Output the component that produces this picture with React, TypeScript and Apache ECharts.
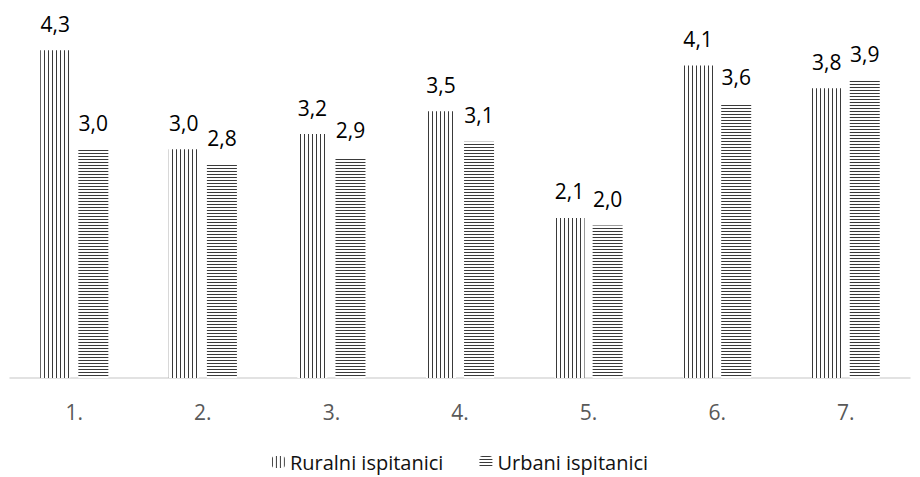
import React, { useEffect, useRef } from "react";
import * as echarts from "echarts";

const categories = ["1.", "2.", "3.", "4.", "5.", "6.", "7."];
const ruralValues = [4.3, 3.0, 3.2, 3.5, 2.1, 4.1, 3.8];
const urbanValues = [3.0, 2.8, 2.9, 3.1, 2.0, 3.6, 3.9];
const seriesNames = ["Ruralni ispitanici", "Urbani ispitanici"];

const FONT = "'Open Sans', 'Noto Sans', sans-serif";

export default function App() {
  const ref = useRef<HTMLDivElement>(null);
  useEffect(() => {
    if (!ref.current) return;
    const chart = echarts.init(ref.current, undefined, { renderer: "svg" });
    const label = {
      show: true,
      position: "top",
      distance: 16,
      fontSize: 21,
      fontFamily: FONT,
      color: "#000",
      formatter: (p: any) => Number(p.value).toFixed(1).replace(".", ","),
    };
    const vDecal = {
      symbol: "rect",
      symbolSize: 1,
      color: "#3a3a3a",
      backgroundColor: "#fff",
      dashArrayX: [1, 2.5],
      dashArrayY: [10, 0],
      rotation: 0,
    };
    const hDecal = {
      symbol: "rect",
      symbolSize: 1,
      color: "#3a3a3a",
      backgroundColor: "#fff",
      dashArrayX: [10, 0],
      dashArrayY: [1, 2],
      rotation: 0,
    };
    chart.setOption({
      animation: false,
      backgroundColor: "#fff",
      textStyle: { fontFamily: FONT },
      grid: { left: 10, right: 10, top: 35, bottom: 99, containLabel: false },
      legend: {
        top: 447,
        left: "center",
        itemWidth: 13,
        itemHeight: 12,
        itemGap: 36,
        textStyle: { fontSize: 20, color: "#111", fontFamily: FONT },
        data: seriesNames,
      },
      xAxis: {
        type: "category",
        data: categories,
        axisLine: { lineStyle: { color: "#d9d9d9", width: 1.5 } },
        axisTick: { show: false },
        axisLabel: { fontSize: 21, color: "#595959", margin: 23, fontFamily: FONT },
      },
      yAxis: {
        type: "value",
        min: 0,
        max: 4.5,
        show: false,
        splitLine: { show: false },
      },
      series: [
        {
          name: seriesNames[0],
          type: "bar",
          data: ruralValues,
          barWidth: 30,
          barGap: "27%",
          itemStyle: { color: "#fff", decal: vDecal },
          label,
        },
        {
          name: seriesNames[1],
          type: "bar",
          data: urbanValues,
          barWidth: 30,
          itemStyle: { color: "#fff", decal: hDecal },
          label,
        },
      ],
    });
    return () => chart.dispose();
  }, []);
  return (
    <div
      ref={ref}
      style={{ position: "fixed", left: 0, top: 0, width: 920, height: 477 }}
    />
  );
}
